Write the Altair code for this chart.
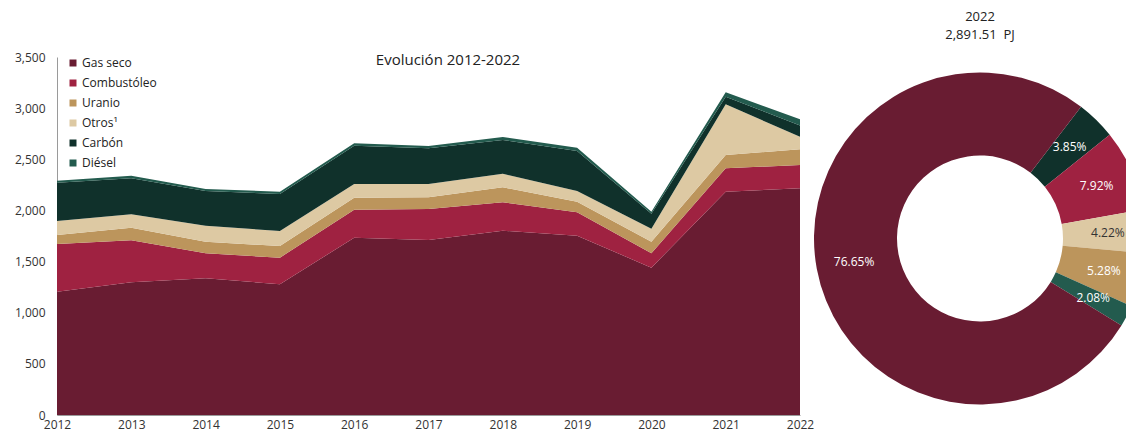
import math
import altair as alt
import pandas as pd

FONT = "Open Sans"

years = list(range(2012, 2023))
fuentes = ["Gas seco", "Combustóleo", "Uranio", "Otros¹", "Carbón", "Diésel"]
colores = ["#691C32", "#9F2241", "#BC955C", "#DDC9A3", "#10312B", "#235B4E"]

gas_seco = [1206, 1297, 1336, 1278, 1733, 1711, 1802, 1753, 1440, 2183, 2216]
combustoleo = [466, 411, 245, 260, 274, 303, 277, 228, 141, 229, 229]
uranio = [88, 123, 113, 114, 118, 114, 147, 104, 114, 130, 153]
otros = [136, 131, 157, 147, 133, 130, 133, 105, 125, 495, 122]
carbon = [375, 352, 339, 362, 375, 349, 329, 391, 148, 75, 111]
diesel = [19, 26, 19, 22, 23, 23, 30, 32, 20, 43, 60]

donut_fuentes = ["Carbón", "Combustóleo", "Otros¹", "Uranio", "Diésel", "Gas seco"]
donut_pct = [3.85, 7.92, 4.22, 5.28, 2.08, 76.65]

y_ticks = [0, 500, 1000, 1500, 2000, 2500, 3000, 3500]
titulo = "Evolución 2012-2022"
donut_t1 = "2022"
donut_t2 = "2,891.51\u00a0\u00a0PJ"

series = [gas_seco, combustoleo, uranio, otros, carbon, diesel]
rows = []
for i, (f, vals) in enumerate(zip(fuentes, series)):
    for yr, v in zip(years, vals):
        rows.append({"Año": yr, "Fuente": f, "PJ": v, "orden": i})
df = pd.DataFrame(rows)

dd = pd.DataFrame({"Fuente": donut_fuentes, "pct": donut_pct,
                   "orden": list(range(len(donut_fuentes)))})
dd["label"] = [f"{p:.2f}%" for p in donut_pct]

color = alt.Color(
    "Fuente:N",
    scale=alt.Scale(domain=fuentes, range=colores),
    legend=alt.Legend(
        orient="none", legendX=10, legendY=0, title=None,
        symbolType="square", symbolSize=49, symbolStrokeWidth=0,
        labelFontSize=12, labelFont=FONT, labelColor="#222222",
        rowPadding=8, labelOffset=3, padding=0,
    ),
)

area = alt.Chart(df).mark_area(interpolate="linear").encode(
    x=alt.X("Año:Q",
            scale=alt.Scale(domain=[2012, 2022], range=[0, 743], nice=False, zero=False),
            axis=alt.Axis(values=years, format="d", title=None, ticks=False,
                          labelPadding=4, labelFontSize=12, grid=False,
                          labelFlush=False, labelBound=False, labelOverlap=False,
                          domainColor="#9a9a9a")),
    y=alt.Y("PJ:Q", stack="zero",
            scale=alt.Scale(domain=[0, 3500], nice=False),
            axis=alt.Axis(values=y_ticks, format=",.0f", title=None, ticks=False,
                          labelPadding=12, labelFontSize=12, grid=False,
                          labelFlush=False,
                          domainColor="#9a9a9a")),
    color=color,
    order=alt.Order("orden:Q", sort="ascending"),
)

off = math.radians(37.5)
theta_scale = alt.Scale(range=[off, off + 2 * math.pi])

CX, CY = 923, 181.5

arc = alt.Chart(dd).mark_arc(innerRadius=83, outerRadius=166).encode(
    theta=alt.Theta("pct:Q", stack=True, scale=theta_scale),
    color=color,
    order=alt.Order("orden:Q", sort="ascending"),
    x=alt.value(CX),
    y=alt.value(CY),
)

labels = alt.Chart(dd).mark_text(radius=128, fontSize=12, font=FONT).encode(
    theta=alt.Theta("pct:Q", stack=True, scale=theta_scale),
    order=alt.Order("orden:Q", sort="ascending"),
    text="label:N",
    color=alt.when("datum.Fuente == 'Otros¹'").then(alt.value("#333333")).otherwise(alt.value("white")),
    x=alt.value(CX),
    y=alt.value(CY),
)

t_main = alt.Chart(pd.DataFrame({"t": [titulo]})).mark_text(
    fontSize=15, font=FONT, color="#222222", baseline="middle"
).encode(text="t:N", x=alt.value(391), y=alt.value(3))

t_d1 = alt.Chart(pd.DataFrame({"t": [donut_t1]})).mark_text(
    fontSize=13, font=FONT, color="#222222", baseline="middle"
).encode(text="t:N", x=alt.value(CX), y=alt.value(-40))

t_d2 = alt.Chart(pd.DataFrame({"t": [donut_t2]})).mark_text(
    fontSize=13, font=FONT, color="#222222", baseline="middle"
).encode(text="t:N", x=alt.value(CX), y=alt.value(-22))

chart = alt.layer(area, arc, labels, t_main, t_d1, t_d2).properties(
    width=1069, height=358,
    padding={"left": 49, "top": 49, "right": 0, "bottom": 16},
    autosize=alt.AutoSizeParams(type="none"),
).configure(font=FONT).configure_view(stroke=None).configure_axis(
    labelFont=FONT, labelColor="#333333"
)

chart.save("out.html", embed_options={"renderer": "svg", "actions": False})
